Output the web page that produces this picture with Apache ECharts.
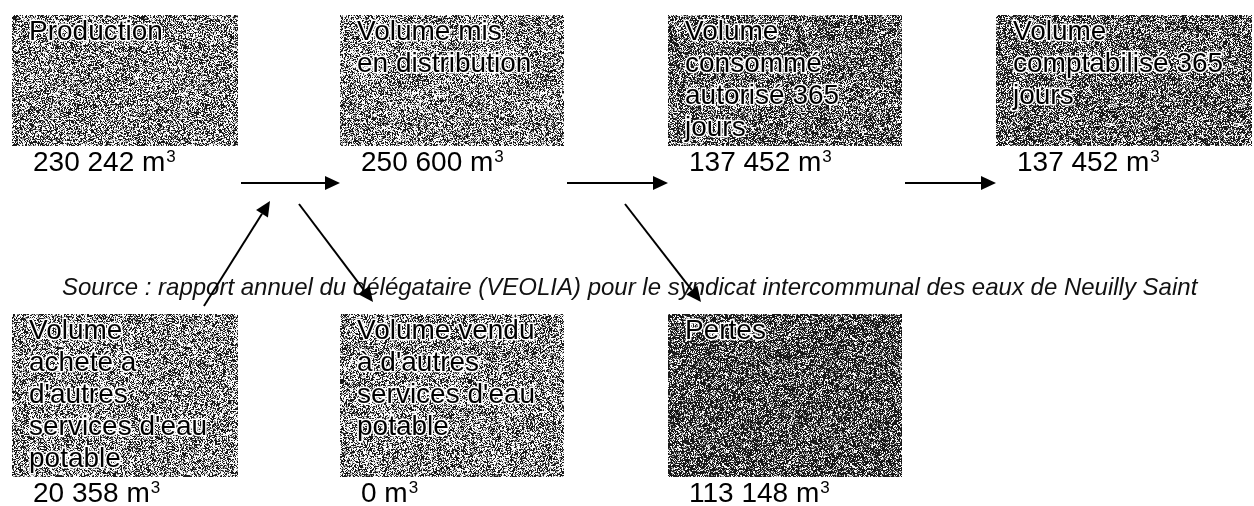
<!DOCTYPE html>
<html><head><meta charset="utf-8">
<script src="https://cdn.jsdelivr.net/npm/echarts@6/dist/echarts.min.js"></script>
<style>html,body{margin:0;padding:0;background:#fff}#c{width:1254px;height:506px}</style>
</head><body><div id="c"></div>
<script>
// ---------------- DATA ----------------
const nodeIds = ['prod', 'dist', 'cons', 'compt', 'achat', 'vendu', 'pertes'];
const nodeLabels = [
  'Production',
  'Volume mis\nen distribution',
  'Volume\nconsommé\nautorisé 365\njours',
  'Volume\ncomptabilisé 365\njours',
  'Volume\nacheté à\nd\'autres\nservices d\'eau\npotable',
  'Volume vendu\nà d\'autres\nservices d\'eau\npotable',
  'Pertes'
];
const nodeValues = [230242, 250600, 137452, 137452, 20358, 0, 113148];
const nodeColumns = [0, 1, 2, 3, 0, 1, 2];
const nodeRows = [0, 0, 0, 0, 1, 1, 1];
const links = [
  ['prod', 'dist'], ['dist', 'cons'], ['cons', 'compt'],
  ['achat', 'dist'], ['dist', 'vendu'], ['cons', 'pertes']
];
const unitText = 'm';
const unitExponent = '3';
const sourceText = 'Source : rapport annuel du délégataire (VEOLIA) pour le syndicat intercommunal des eaux de Neuilly Saint';

// ---------------- LAYOUT / STYLE ----------------
const W = 1254, H = 506;
const COL_ORIGIN = 12, COL_PITCH = 328;
const ROW_ORIGIN = 15, ROW_PITCH = 299;
const BOX_W = [226, 224, 234, 256];
const LINE_H = 32, FONT_SIZE = 28;
const FAMILY = '"Liberation Sans", Arial, Helvetica, sans-serif';
const boxDarkness = [0.40, 0.40, 0.52, 0.52, 0.40, 0.40, 0.60];

function fmt(v) { return String(v).replace(/\B(?=(\d{3})+(?!\d))/g, ' '); }
function rowLines(r) {
  let m = 1;
  nodeLabels.forEach((l, i) => { if (nodeRows[i] === r) m = Math.max(m, l.split('\n').length); });
  return m;
}
function rowHeight(r) { return rowLines(r) * LINE_H + 3; }

// scanned halftone texture (deterministic hash)
function hash(x, y, s) {
  let h = (x * 374761393 + y * 668265263 + s * 2147483647) | 0;
  h = (h ^ (h >>> 13)) * 1274126177 | 0;
  h = h ^ (h >>> 16);
  return (h >>> 0) / 4294967295;
}
function makePattern(dark, seed) {
  const c = document.createElement('canvas');
  c.width = 128; c.height = 128;
  const ctx = c.getContext('2d');
  const img = ctx.createImageData(128, 128);
  for (let y = 0; y < 128; y++) for (let x = 0; x < 128; x++) {
    const r = hash(x, y, seed);
    let g = r < dark ? 25 : (r < dark + 0.18 ? 150 : 250);
    const k = (y * 128 + x) * 4;
    img.data[k] = img.data[k + 1] = img.data[k + 2] = g; img.data[k + 3] = 255;
  }
  ctx.putImageData(img, 0, 0);
  return { image: c, repeat: 'repeat' };
}
const patterns = boxDarkness.map((d, i) => makePattern(d, i + 3));

function idx(id) { return nodeIds.indexOf(id); }
function topAt(col) { return nodeIds.findIndex((_, i) => nodeRows[i] === 0 && nodeColumns[i] === col); }
function rectOf(i, api) {
  const p = api.coord([nodeColumns[i], nodeRows[i]]);
  return { x: p[0], y: p[1], w: BOX_W[nodeColumns[i]], h: rowHeight(nodeRows[i]) };
}
function edgeInto(col, api) {
  const a = rectOf(topAt(col - 1), api), b = rectOf(topAt(col), api);
  return { x1: a.x + a.w + 3, x2: b.x, y: a.y + a.h + 37 };
}
function arrow(x1, y1, x2, y2) {
  const L = 15, HW = 7;
  const dx = x2 - x1, dy = y2 - y1, d = Math.hypot(dx, dy);
  const ux = dx / d, uy = dy / d;
  const bx = x2 - ux * L, by = y2 - uy * L;
  return [
    { type: 'line', shape: { x1: x1, y1: y1, x2: bx, y2: by }, style: { stroke: '#000', lineWidth: 2 } },
    { type: 'polygon', shape: { points: [[x2, y2], [bx - uy * HW, by + ux * HW], [bx + uy * HW, by - ux * HW]] }, style: { fill: '#000' } }
  ];
}

function renderBox(params, api) {
  const i = api.value(2);
  const r = rectOf(i, api);
  return {
    type: 'group', children: [
      { type: 'rect', shape: { x: r.x, y: r.y, width: r.w, height: r.h }, style: { fill: patterns[i] } },
      { type: 'text', x: r.x + 17, y: r.y + 1, style: {
          text: nodeLabels[i], fill: '#000', stroke: '#fff', lineWidth: 3,
          fontSize: FONT_SIZE, fontFamily: FAMILY, lineHeight: LINE_H, verticalAlign: 'top', align: 'left' } },
      { type: 'text', x: r.x + 21, y: r.y + r.h + 3, style: {
          text: '{v|' + fmt(api.value(3)) + ' ' + unitText + '}{s|' + unitExponent + '}',
          verticalAlign: 'top', align: 'left', fill: '#000',
          rich: {
            v: { fontSize: FONT_SIZE, fontFamily: FAMILY, lineHeight: 28, fill: '#000' },
            s: { fontSize: 17, fontFamily: FAMILY, lineHeight: 8, verticalAlign: 'top', fill: '#000', padding: [0, 0, 0, 1] }
          } } }
    ]
  };
}

function renderLink(params, api) {
  const k = api.value(0);
  const s = idx(links[k][0]), t = idx(links[k][1]);
  let g;
  if (nodeRows[s] === 0 && nodeRows[t] === 0) {
    const e = edgeInto(nodeColumns[t], api);
    g = arrow(e.x1, e.y, e.x2, e.y);
  } else if (nodeRows[s] === 1) {
    const e = edgeInto(nodeColumns[t], api), r = rectOf(s, api);
    g = arrow(r.x + 192, r.y - 8, e.x1 + 29, e.y + 18);
  } else {
    const e = edgeInto(nodeColumns[s], api), r = rectOf(t, api);
    g = arrow(e.x1 + 58, e.y + 21, r.x + 33, r.y - 12);
  }
  return { type: 'group', children: g };
}

const chart = echarts.init(document.getElementById('c'), null, { renderer: 'canvas' });
chart.setOption({
  animation: false,
  backgroundColor: '#fff',
  title: {
    text: sourceText, left: 62, top: 276, padding: 0, z: 1,
    textStyle: { fontStyle: 'italic', fontWeight: 'normal', fontSize: 24, color: '#111', fontFamily: FAMILY }
  },
  grid: { left: 0, right: 0, top: 0, bottom: 0 },
  xAxis: { type: 'value', show: false, min: -COL_ORIGIN / COL_PITCH, max: (W - COL_ORIGIN) / COL_PITCH },
  yAxis: { type: 'value', show: false, inverse: true, min: -ROW_ORIGIN / ROW_PITCH, max: (H - ROW_ORIGIN) / ROW_PITCH },
  series: [
    { type: 'custom', name: 'boxes', z: 3, clip: false, renderItem: renderBox,
      data: nodeIds.map((id, i) => [nodeColumns[i], nodeRows[i], i, nodeValues[i]]) },
    { type: 'custom', name: 'flows', z: 5, clip: false, renderItem: renderLink,
      data: links.map((l, k) => [k]) }
  ]
});
</script></body></html>
